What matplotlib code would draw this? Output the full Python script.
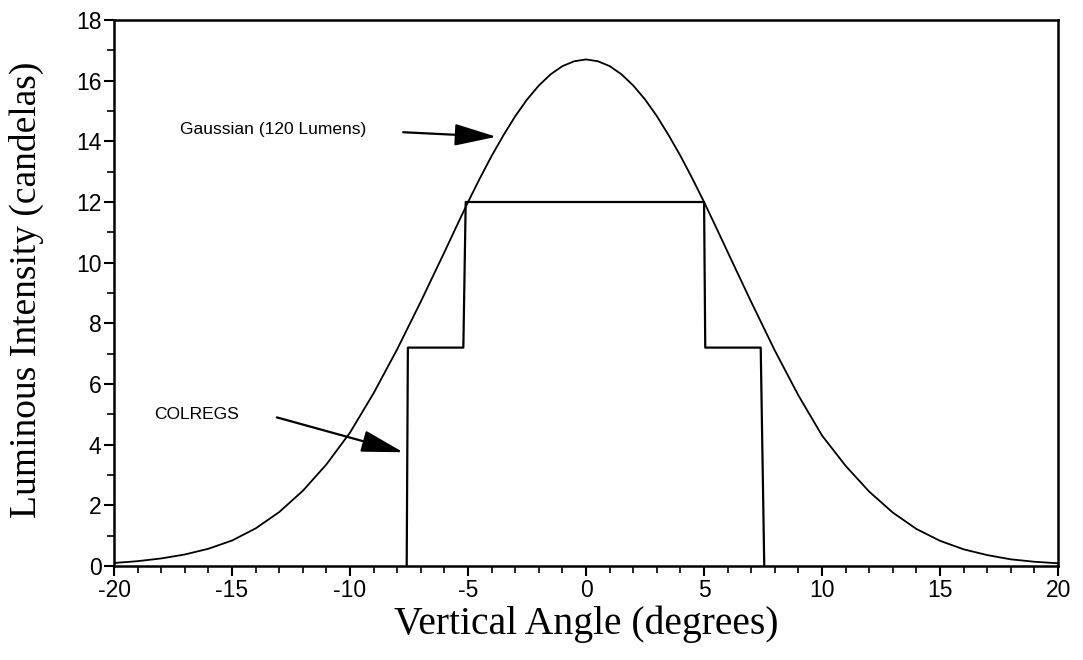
import numpy as np
import matplotlib.pyplot as plt

# Gaussian beam (120 lumens)
gauss_x = [-20, -19, -18, -17, -16, -15, -14, -13, -12, -11, -10, -9, -8, -7,
           -6, -5.5, -5, -4.5, -4, -3.5, -3, -2.5, -2, -1.5, -1, -0.5, 0,
           0.5, 1, 1.5, 2, 2.5, 3, 3.5, 4, 4.5, 5, 5.5, 6,
           7, 8, 9, 10, 11, 12, 13, 14, 15, 16, 17, 18, 19, 20]
gauss_y = [0.1, 0.16, 0.25, 0.38, 0.57, 0.84, 1.24, 1.78, 2.48, 3.35, 4.4, 5.7, 7.15, 8.72,
           10.35, 11.18, 12.0, 12.78, 13.52, 14.2, 14.83, 15.38, 15.84, 16.21, 16.48, 16.64, 16.7,
           16.64, 16.48, 16.21, 15.84, 15.38, 14.83, 14.2, 13.52, 12.78, 12.0, 11.18, 10.35,
           8.7, 7.1, 5.62, 4.3, 3.3, 2.45, 1.76, 1.22, 0.83, 0.55, 0.36, 0.22, 0.14, 0.09]

# COLREGS minimum intensity steps
colregs_x = [-7.6, -7.55, -5.2, -5.1, 5.0, 5.05, 7.4, 7.55]
colregs_y = [0, 7.2, 7.2, 12, 12, 7.2, 7.2, 0]

xticks = [-20, -15, -10, -5, 0, 5, 10, 15, 20]
yticks = [0, 2, 4, 6, 8, 10, 12, 14, 16, 18]

fig = plt.figure(figsize=(10.83, 6.6), dpi=100)
ax = fig.add_axes([0.1053, 0.1424, 0.8717, 0.8273])

ax.plot(gauss_x, gauss_y, color='black', lw=1.3)
ax.plot(colregs_x, colregs_y, color='black', lw=1.6)

ax.set_xlim(-20, 20)
ax.set_ylim(0, 18)
ax.set_xticks(xticks)
ax.set_yticks(yticks)
ax.set_xticks(np.arange(-20, 21, 1), minor=True)
ax.set_yticks(np.arange(0, 19, 1), minor=True)
ax.set_xticklabels([str(t) for t in xticks], family='Liberation Sans', fontsize=16.5)
ax.set_yticklabels([str(t) for t in yticks], family='Liberation Sans', fontsize=16.5)
ax.tick_params(which='major', direction='out', length=7, width=1.5, pad=2)
ax.tick_params(which='minor', direction='out', length=5, width=1.2)
for s in ax.spines.values():
    s.set_linewidth(1.8)

ax.set_xlabel('Vertical Angle (degrees)', family='Liberation Serif', fontsize=28.5, labelpad=3)
ax.set_ylabel('Luminous Intensity (candelas)', family='Liberation Serif', fontsize=27)
ax.yaxis.set_label_coords(-0.074, 0.505)

arrow = dict(arrowstyle='-|>,head_length=1.3,head_width=0.34', mutation_scale=20,
             color='black', lw=1.6, shrinkA=0, shrinkB=0)
ax.text(-17.2, 14.4, 'Gaussian (120 Lumens)', family='Liberation Sans', fontsize=12.5, va='center')
ax.annotate('', xy=(-3.8, 14.15), xytext=(-7.75, 14.3), arrowprops=arrow)
ax.text(-18.3, 5.0, 'COLREGS', family='Liberation Sans', fontsize=12.5, va='center')
ax.annotate('', xy=(-7.75, 3.75), xytext=(-13.1, 4.9), arrowprops=arrow)

plt.savefig('out.png', dpi=100)
